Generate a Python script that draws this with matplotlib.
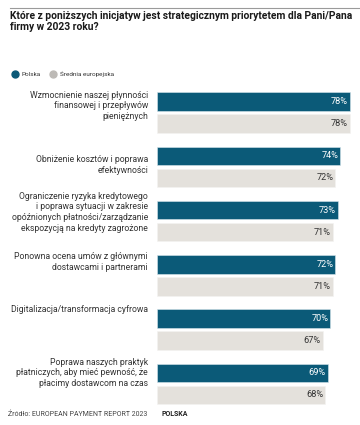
import matplotlib
matplotlib.use("Agg")
import matplotlib.pyplot as plt
import numpy as np

# dane z wykresu
kategorie = [
    "Wzmocnienie naszej płynności\nfinansowej i przepływów\npieniężnych",
    "Obniżenie kosztów i poprawa\nefektywności",
    "Ograniczenie ryzyka kredytowego\ni poprawa sytuacji w zakresie\nopóźnionych płatności/zarządzanie\nekspozycją na kredyty zagrożone",
    "Ponowna ocena umów z głównymi\ndostawcami i partnerami",
    "Digitalizacja/transformacja cyfrowa",
    "Poprawa naszych praktyk\npłatniczych, aby mieć pewność, że\npłacimy dostawcom na czas",
]
polska = [78, 74, 73, 72, 70, 69]
srednia_eu = [78, 72, 71, 71, 67, 68]
serie = ["Polska", "Średnia europejska"]

kolor_pl = "#0b5a78"
kolor_eu = "#e4e1dc"

plt.rcParams['font.family'] = ['Roboto', 'DejaVu Sans']

fig = plt.figure(figsize=(3.6, 4.25), dpi=100)

# linia na górze
fig.add_artist(plt.Line2D([10 / 360, 1.0], [1 - 8 / 425, 1 - 8 / 425], color="#9a9a9a", lw=0.8))

fig.text(10 / 360, 1 - 11 / 425,
         "Które z poniższych inicjatyw jest strategicznym priorytetem dla Pani/Pana\nfirmy w 2023 roku?",
         fontsize=7.4, fontweight="semibold", va="top", ha="left", color="#1a1a1a", linespacing=1.15)

# legenda
fig.add_artist(plt.Line2D([15 / 360], [1 - 74 / 425], marker="o", ms=5, color=kolor_pl, lw=0))
fig.text(22 / 360, 1 - 74 / 425, serie[0], fontsize=4.6, va="center", color="#333333")
fig.add_artist(plt.Line2D([53 / 360], [1 - 74 / 425], marker="o", ms=5, color="#bdbab6", lw=0))
fig.text(60 / 360, 1 - 74 / 425, serie[1], fontsize=4.6, va="center", color="#333333")

ax = fig.add_axes([157 / 360, 1 - 411 / 425, 198 / 360, (411 - 85.2) / 425])
y = np.arange(len(kategorie))
off = 22 / 54.3
h = 18.5 / 54.3

ax.barh(y, polska, height=h, color=kolor_pl, edgecolor="#d8e6ec", linewidth=0.4)
ax.barh(y + off, srednia_eu, height=h, color=kolor_eu, edgecolor="#f4f3f1", linewidth=0.4)

for i in range(len(kategorie)):
    ax.text(polska[i] - 0.8, y[i], f"{polska[i]}%", ha="right", va="center",
            fontsize=6.6, color="white")
    ax.text(srednia_eu[i] - 0.8, y[i] + off, f"{srednia_eu[i]}%", ha="right", va="center",
            fontsize=6.6, color="#333333")

przes = [0.08, 0.17, 0.04, -0.05, -0.17, 0.0]
for i, k in enumerate(kategorie):
    ax.text(-3.6, y[i] + przes[i], k, ha="right", va="center", fontsize=6.2,
            color="#333333", linespacing=1.25, clip_on=False)

ax.set_xlim(0, 80)
ax.set_ylim(5.7, -0.3)
ax.axis("off")

fig.text(8 / 360, 1 - 414 / 425, "Źródło: EUROPEAN PAYMENT REPORT 2023", fontsize=5.0,
         va="center", color="#444444")
fig.text(162 / 360, 1 - 414 / 425, "POLSKA", fontsize=5.0, fontweight="bold",
         va="center", color="#222222")

fig.savefig("out.png", dpi=100, facecolor="white")
